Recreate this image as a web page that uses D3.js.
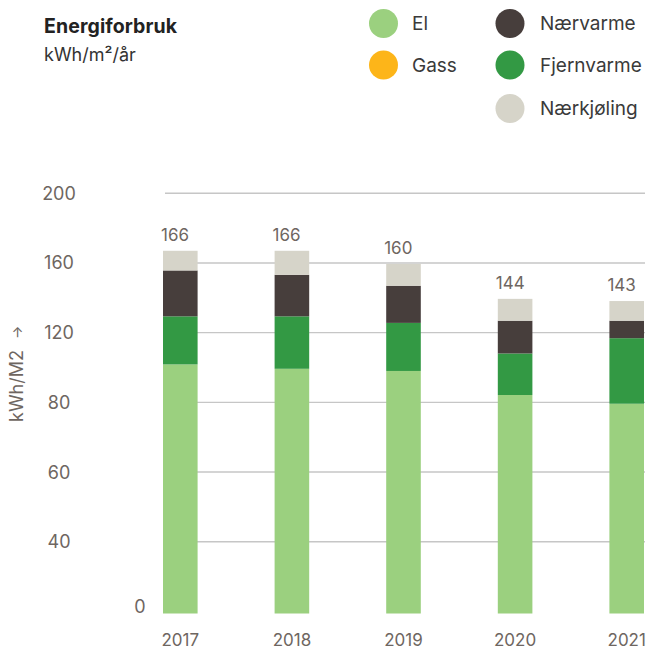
<!DOCTYPE html>
<html>
<head>
<meta charset="utf-8">
<script src="https://cdn.jsdelivr.net/npm/d3@7/dist/d3.min.js"></script>
<style>
  html, body { margin: 0; padding: 0; background: #fff; }
  svg { display: block; font-family: Inter, "Noto Sans", sans-serif; }
</style>
</head>
<body>
<svg id="chart" width="646" height="649"></svg>
<script>
// ---- data ----
const years = ["2017", "2018", "2019", "2020", "2021"];
const seriesNames = ["El", "Gass", "Fjernvarme", "Nærvarme", "Nærkjøling"];
const el = [114, 112, 111, 100, 96];
const gass = [0, 0, 0, 0, 0];
const fjernvarme = [22, 24, 22, 19, 30];
const naervarme = [21, 19, 17, 15, 8];
const naerkjoling = [9, 11, 10, 10, 9];
const totals = [166, 166, 160, 144, 143];
const gridLabels = ["40", "60", "80", "120", "160", "200"];
const zeroLabel = "0";
const legendLeft = ["El", "Gass"];
const legendRight = ["Nærvarme", "Fjernvarme", "Nærkjøling"];

const colors = {
  "El": "#9bd07f",
  "Gass": "#fdb519",
  "Fjernvarme": "#339944",
  "Nærvarme": "#473e3c",
  "Nærkjøling": "#d6d4c9"
};

const rows = years.map((y, i) => ({
  year: y,
  "El": el[i], "Gass": gass[i], "Fjernvarme": fjernvarme[i],
  "Nærvarme": naervarme[i], "Nærkjøling": naerkjoling[i], total: totals[i]
}));

const svg = d3.select("#chart");
const tickColor = "#6e6661";

// scales
const x = d3.scaleBand().domain(years).range([163, 644]).paddingInner(0.69).paddingOuter(0);
const y = d3.scaleLinear().domain([0, 200]).range([613.5, 176.5]);
const grid = d3.scalePoint().domain(gridLabels).range([541.7, 193.3]);

// gridlines
svg.append("g").selectAll("line").data(gridLabels).join("line")
  .attr("x1", 165).attr("x2", 645)
  .attr("y1", d => grid(d)).attr("y2", d => grid(d))
  .attr("stroke", "#c6c6c6").attr("stroke-width", 1.4);

// grid labels
svg.append("g").selectAll("text").data(gridLabels).join("text")
  .attr("x", 59).attr("y", d => grid(d))
  .attr("dy", "0.36em")
  .attr("text-anchor", "middle")
  .attr("font-size", 18).attr("fill", tickColor)
  .text(d => d);

svg.append("text")
  .attr("x", 140).attr("y", y(0) - 7)
  .attr("dy", "0.36em").attr("text-anchor", "middle")
  .attr("font-size", 18).attr("fill", tickColor)
  .text(zeroLabel);

// stacked bars
const stack = d3.stack().keys(seriesNames)(rows);
svg.append("g").selectAll("g").data(stack).join("g")
  .attr("fill", d => colors[d.key])
  .selectAll("rect").data(d => d).join("rect")
  .attr("x", d => x(d.data.year))
  .attr("width", x.bandwidth())
  .attr("y", d => y(d[1]))
  .attr("height", d => y(d[0]) - y(d[1]));

// totals
svg.append("g").selectAll("text").data(rows).join("text")
  .attr("x", d => x(d.year) - 2)
  .attr("y", d => y(d.total) - 10)
  .attr("font-size", 17).attr("fill", tickColor)
  .text(d => d.total);

// x axis labels
const xAxis = d3.axisBottom(x).tickSize(0).tickPadding(0);
const gx = svg.append("g").attr("transform", "translate(0,634)").call(xAxis);
gx.select(".domain").remove();
gx.selectAll("text")
  .attr("font-size", 17).attr("fill", tickColor)
  .attr("font-family", "Inter, sans-serif")
  .attr("dy", "0.71em").attr("y", 0);

// y axis title
const yt = svg.append("text")
  .attr("transform", "translate(23,422) rotate(-90)")
  .attr("text-anchor", "start")
  .attr("font-size", 18).attr("fill", tickColor);
yt.append("tspan").text("kWh/M2");
yt.append("tspan").attr("dx", 11).attr("font-size", 14).attr("dy", -1).text("\u2192");

// title
svg.append("text").attr("x", 44).attr("y", 33)
  .attr("font-size", 19.5).attr("font-weight", 700).attr("fill", "#222")
  .attr("letter-spacing", 0.1)
  .text("Energiforbruk");
svg.append("text").attr("x", 44).attr("y", 61)
  .attr("font-size", 18).attr("fill", "#333")
  .text("kWh/m²/år");

// legend
const legendItems = legendLeft.map((k, i) => ({ key: k, cx: 383.5, cy: [23.5, 65][i], tx: 412 }))
  .concat(legendRight.map((k, i) => ({ key: k, cx: 510, cy: [23.5, 65, 108.5][i], tx: 540 })));
const lg = svg.append("g").selectAll("g").data(legendItems).join("g");
lg.append("circle").attr("cx", d => d.cx).attr("cy", d => d.cy).attr("r", 14.5)
  .attr("fill", d => colors[d.key]);
lg.append("text").attr("x", d => d.tx).attr("y", d => d.cy).attr("dy", "0.36em")
  .attr("font-size", 19).attr("fill", "#3a3a3a")
  .text(d => d.key);
</script>
</body>
</html>
